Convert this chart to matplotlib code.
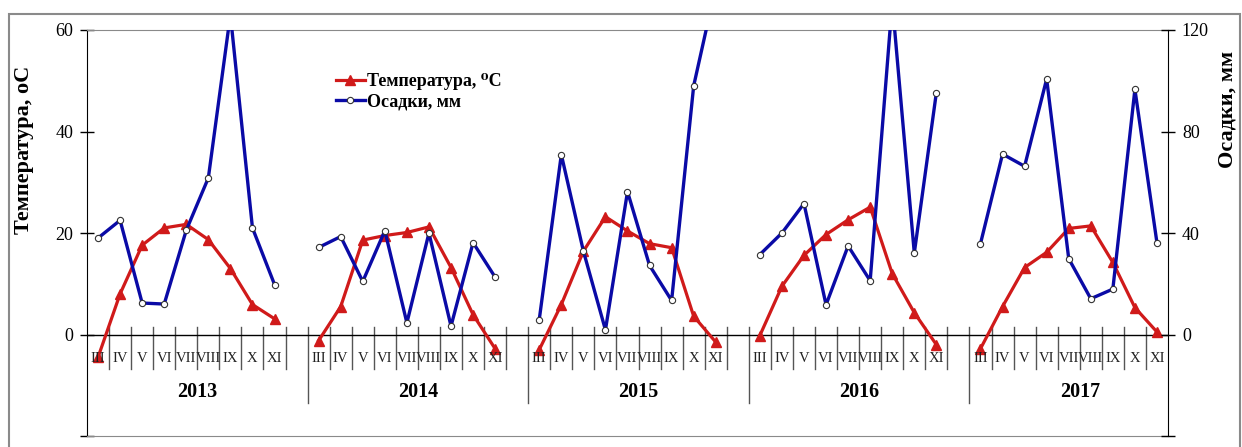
import matplotlib
matplotlib.use('Agg')
import matplotlib.pyplot as plt
from matplotlib.patches import Rectangle

years = ['2013', '2014', '2015', '2016', '2017']
months = ['III', 'IV', 'V', 'VI', 'VII', 'VIII', 'IX', 'X', 'XI']

# temperature, oC (left axis)
temp = {
    '2013': [-4.5, 8.0, 17.6, 21.0, 21.7, 18.7, 13.0, 5.9, 3.1],
    '2014': [-1.2, 5.5, 18.6, 19.5, 20.1, 21.2, 13.2, 3.9, -2.8],
    '2015': [-3.0, 5.9, 16.4, 23.2, 20.4, 17.9, 17.1, 3.6, -1.5],
    '2016': [-0.2, 9.5, 15.6, 19.7, 22.6, 25.1, 12.0, 4.3, -2.0],
    '2017': [-2.8, 5.5, 13.2, 16.2, 20.9, 21.4, 14.2, 5.3, 0.5],
}
# precipitation, mm (right axis)
prec = {
    '2013': [38.0, 45.0, 12.4, 12.0, 41.1, 61.7, 126.0, 42.0, 19.7],
    '2014': [34.3, 38.6, 20.9, 40.9, 4.6, 40.0, 3.3, 36.2, 22.6],
    '2015': [5.9, 70.9, 32.9, 1.8, 56.3, 27.2, 13.4, 98.0, 137.0],
    '2016': [31.5, 40.0, 51.6, 11.7, 34.9, 21.2, 131.0, 32.1, 95.3],
    '2017': [35.8, 71.1, 66.3, 100.7, 29.9, 14.1, 17.9, 96.6, 36.1],
}

red = '#D01A1A'
blue = '#0A0AA6'
serif = ['Liberation Serif', 'DejaVu Serif']

W, H = 1242, 447
fig = plt.figure(figsize=(W / 100, H / 100), dpi=100)
ax = fig.add_axes([87 / W, 1 - 436 / H, (1168 - 87) / W, (436 - 30) / H])
ax2 = ax.twinx()

# outer frame
fig.patches.append(Rectangle((9 / W, -0.05), (1240 - 9) / W, 1.05 - 14 / H,
                             transform=fig.transFigure, fill=False,
                             edgecolor='#8a8a8a', lw=1.5))

step = len(months) + 1
ncat = step * len(years) - 1

for k, yr in enumerate(years):
    xs = [k * step + j for j in range(len(months))]
    lt, = ax.plot(xs, temp[yr], color=red, lw=2.3, marker='^', ms=6.5,
                  mfc=red, mec=red, zorder=3)
    lp, = ax2.plot(xs, prec[yr], color=blue, lw=2.4, marker='o', ms=4.5,
                   mfc='white', mec='#333333', mew=0.8, zorder=3)
    for j, m in enumerate(months):
        ax.text(xs[j], -4.8, m, ha='center', va='center', fontsize=10.5,
                family=serif, color='#222222')
    ax.text(k * step + 4.5, -11.4, yr, ha='center', va='center', fontsize=14.5,
            family=serif, fontweight='bold')

# category separators
for i in range(1, ncat):
    b = i - 0.5
    if i % step == 0:
        ax.plot([b, b], [1.5, -13.4], color='#555555', lw=1, zorder=1)
    else:
        ax.plot([b, b], [1.5, -6.7], color='#555555', lw=1, zorder=1)

ax.axhline(0, color='black', lw=1, zorder=2)

ax.set_xlim(-0.5, ncat - 0.5)
ax.set_xticks([])
ax.set_ylim(-20, 60)
ax.set_yticks([-20, 0, 20, 40, 60])
ax.set_yticklabels(['', '0', '20', '40', '60'])
ax2.set_ylim(-40, 120)
ax2.set_yticks([-40, 0, 40, 80, 120])
ax2.set_yticklabels(['', '0', '40', '80', '120'])

for a in (ax, ax2):
    a.tick_params(axis='y', direction='inout', length=10, width=1,
                  labelsize=13, pad=5)
    for lab in a.get_yticklabels():
        lab.set_family(serif)

ax.spines['right'].set_visible(False)
ax2.spines['left'].set_visible(False)
ax2.spines['top'].set_visible(False)
ax2.spines['bottom'].set_visible(False)
ax.spines['top'].set_color('#8a8a8a')
ax.spines['bottom'].set_color('#8a8a8a')
ax.spines['left'].set_color('black')
ax2.spines['right'].set_color('black')

fig.text(24 / W, 1 - 150 / H, 'Температура, оС', rotation=90, ha='center',
         va='center', fontsize=16, fontweight='bold', family=serif)
fig.text(1228 / W, 1 - 109 / H, 'Осадки, мм', rotation=90, ha='center',
         va='center', fontsize=16, fontweight='bold', family=serif)

leg = fig.legend([lt, lp], ['Температура, ⁰С', 'Осадки, мм'],
                 loc='upper left', bbox_to_anchor=(336 / W, 1 - 73 / H),
                 frameon=False, handlelength=1.6, handletextpad=0.1,
                 labelspacing=0.2, borderpad=0, borderaxespad=0,
                 prop={'family': serif, 'weight': 'bold', 'size': 13})

fig.savefig('out.png', dpi=100)
